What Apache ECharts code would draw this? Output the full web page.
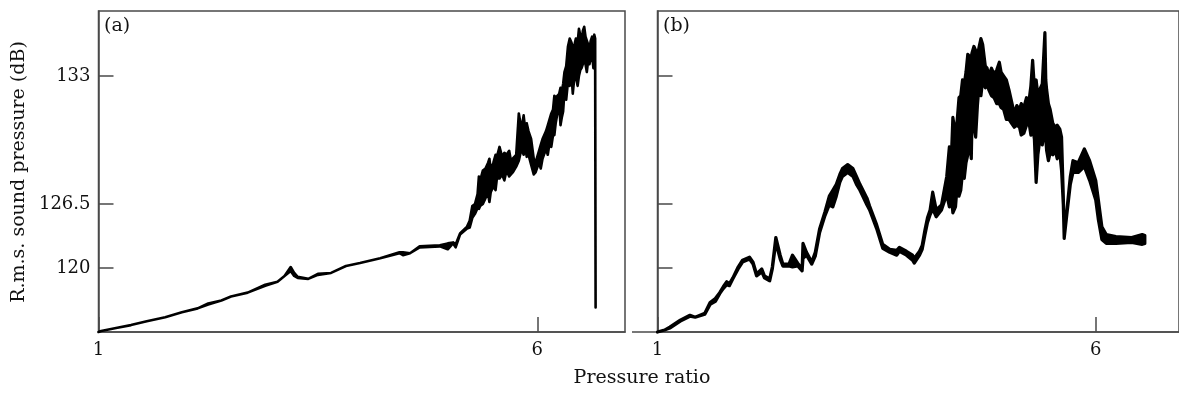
<!DOCTYPE html>
<html>
<head>
<meta charset="utf-8">
<script src="https://cdn.jsdelivr.net/npm/echarts@6/dist/echarts.min.js"></script>
<style>
  html, body { margin: 0; padding: 0; background: #fff; }
  #chart { width: 1179px; height: 393px; }
</style>
</head>
<body>
<div id="chart"></div>
<script>
// Tick labels on the level axis (dB) and pressure-ratio axis
const levelTicks = [120, 126.5, 133];
const ratioTicks = [1, 6];

// (a): pressure ratio, lower and upper envelope of the r.m.s. level trace (dB)
const ratioA = [1.00, 1.03, 1.20, 1.37, 1.55, 1.76, 1.95, 2.13, 2.25, 2.40, 2.51, 2.70, 2.90, 3.04, 3.12, 3.19, 3.23, 3.27, 3.39, 3.50,
  3.65, 3.82, 3.98, 4.21, 4.43, 4.47, 4.55, 4.66, 4.89, 4.98, 5.04, 5.07, 5.12, 5.20,
  5.23, 5.26, 5.29, 5.32, 5.335, 5.35, 5.38, 5.41, 5.44, 5.455, 5.47, 5.50, 5.525, 5.54, 5.57, 5.60, 5.625, 5.65, 5.68, 5.70,
  5.72, 5.76, 5.79, 5.82, 5.845, 5.86, 5.88, 5.90, 5.93, 5.96, 5.98, 6.02, 6.04, 6.06, 6.10, 6.12, 6.14, 6.16, 6.18, 6.195,
  6.21, 6.25, 6.265, 6.28, 6.295, 6.31, 6.33, 6.35, 6.37, 6.39, 6.405, 6.42, 6.44, 6.46, 6.475, 6.49, 6.505, 6.52, 6.535, 6.55,
  6.565, 6.58, 6.595, 6.61, 6.625, 6.64, 6.65, 6.66, 6.665];
const lowA = [113.5, 113.6, 113.9, 114.2, 114.6, 115.0, 115.5, 115.9, 116.3, 116.7, 117.1, 117.5, 118.2, 118.6, 119.2, 119.7, 119.2, 119.0, 118.9, 119.3,
  119.5, 120.2, 120.5, 121.0, 121.5, 121.3, 121.5, 122.1, 122.2, 121.9, 122.5, 122.1, 123.4, 124.0,
  124.1, 125.1, 125.5, 126.1, 126.0, 126.3, 126.5, 126.8, 127.0, 126.6, 127.1, 127.4, 127.2, 127.8, 127.8, 128.0, 127.7, 128.2, 127.9, 128.0,
  128.1, 128.4, 128.7, 129.3, 129.0, 129.5, 128.9, 129.0, 128.5, 128.0, 128.1, 128.6, 128.3, 128.8, 129.3, 129.0, 129.6, 129.4, 130.0, 130.0,
  130.6, 131.6, 130.5, 130.9, 131.2, 132.2, 131.8, 132.7, 132.5, 133.1, 132.1, 132.8, 133.0, 132.5, 133.0, 133.3, 133.4, 133.6, 133.9, 133.6,
  133.2, 133.8, 133.6, 133.9, 134.1, 133.4, 133.6, 133.3, 116.0];
const highA = [113.5, 113.6, 113.9, 114.2, 114.6, 115.0, 115.5, 115.9, 116.4, 116.7, 117.1, 117.5, 118.3, 118.6, 119.2, 120.1, 119.5, 119.1, 118.9, 119.4,
  119.5, 120.2, 120.5, 121.0, 121.6, 121.6, 121.5, 122.2, 122.3, 122.5, 122.6, 122.4, 123.5, 124.2,
  124.8, 126.3, 126.5, 127.0, 127.9, 127.7, 128.2, 128.3, 128.6, 128.8, 128.2, 128.6, 129.0, 128.9, 129.4, 128.9, 129.1, 129.0, 129.2, 128.7,
  128.8, 129.0, 131.1, 130.3, 131.0, 130.4, 130.6, 130.2, 129.8, 128.8, 128.6, 129.2, 129.5, 129.8, 130.2, 130.5, 130.8, 131.1, 131.3, 132.0,
  131.9, 132.1, 132.4, 132.2, 132.6, 133.2, 133.5, 134.5, 134.9, 134.7, 134.4, 134.5, 134.9, 134.7, 135.4, 135.1, 134.7, 135.3, 135.5, 135.0,
  134.8, 134.6, 134.4, 134.8, 135.0, 134.9, 135.1, 134.9, 116.0];

// (b): pressure ratio, lower and upper envelope of the r.m.s. level trace (dB)
const ratioB = [1.00, 1.08, 1.14, 1.26, 1.37, 1.43, 1.54, 1.60, 1.66, 1.71, 1.75, 1.79, 1.82, 1.86, 1.92, 1.97, 2.05, 2.09, 2.13, 2.19,
  2.22, 2.28, 2.31, 2.35, 2.40, 2.43, 2.50, 2.54, 2.60, 2.65, 2.66, 2.70, 2.76, 2.80, 2.85, 2.91, 2.96, 3.00, 3.04, 3.08,
  3.11, 3.17, 3.23, 3.27, 3.31, 3.39, 3.42, 3.50, 3.57, 3.65, 3.73, 3.76, 3.84, 3.91, 3.93, 3.99, 4.02, 4.05, 4.08, 4.11,
  4.14, 4.18, 4.24, 4.30, 4.33, 4.35, 4.37, 4.40, 4.42, 4.44, 4.46, 4.48, 4.50, 4.52, 4.54, 4.56, 4.58, 4.59, 4.61, 4.63,
  4.65, 4.67, 4.69, 4.71, 4.74, 4.76, 4.78, 4.81, 4.84, 4.87, 4.90, 4.92, 4.95, 4.98, 5.01, 5.04, 5.07, 5.10, 5.13, 5.15,
  5.18, 5.21, 5.24, 5.26, 5.28, 5.30, 5.32, 5.34, 5.36, 5.39, 5.42, 5.43, 5.44, 5.46, 5.48, 5.51, 5.54, 5.56, 5.59, 5.61,
  5.63, 5.64, 5.67, 5.71, 5.74, 5.80, 5.87, 5.93, 6.00, 6.03, 6.07, 6.12, 6.23, 6.41, 6.53, 6.56];
const lowB = [113.5, 113.7, 113.9, 114.6, 115.1, 115.0, 115.3, 116.3, 116.6, 117.4, 117.9, 118.3, 118.2, 118.9, 119.9, 120.6, 120.9, 120.4, 119.2, 119.6,
  119.0, 118.7, 119.9, 122.6, 120.9, 120.2, 120.2, 120.1, 120.2, 119.7, 121.0, 121.3, 120.4, 121.2, 123.6, 125.3, 126.4, 126.2, 126.9, 127.6,
  127.9, 128.1, 127.9, 127.5, 127.2, 126.4, 125.9, 124.0, 122.0, 121.6, 121.3, 121.7, 121.3, 120.8, 120.5, 121.3, 121.9, 123.3, 124.6, 125.4,
  126.0, 125.2, 125.9, 127.0, 126.2, 127.0, 125.6, 126.2, 127.5, 126.9, 127.2, 128.1, 127.8, 128.6, 129.0, 130.1, 128.8, 131.1, 130.5, 129.9,
  131.5, 132.6, 132.0, 132.8, 132.4, 132.6, 132.3, 132.0, 131.9, 131.6, 131.6, 131.4, 131.3, 130.8, 130.8, 130.6, 130.4, 130.5, 130.4, 130.0,
  130.1, 130.5, 130.6, 130.0, 130.4, 129.8, 127.6, 129.0, 129.7, 129.5, 130.4, 129.8, 129.2, 128.7, 129.1, 129.0, 129.2, 128.8, 129.1, 128.2,
  126.4, 123.0, 125.4, 127.5, 128.1, 128.1, 128.4, 127.7, 126.7, 124.9, 122.9, 122.5, 122.5, 122.6, 122.4, 122.5];
const highB = [113.5, 113.7, 114.0, 114.7, 115.2, 115.0, 115.4, 116.5, 116.9, 117.5, 118.1, 118.6, 118.4, 119.0, 120.1, 120.8, 121.1, 120.6, 119.4, 119.9,
  119.2, 118.9, 120.1, 123.1, 121.3, 120.4, 120.4, 121.3, 120.5, 119.9, 122.5, 121.6, 120.6, 121.6, 124.0, 125.7, 126.9, 127.2, 127.5, 128.0,
  128.3, 128.5, 128.3, 127.9, 127.5, 126.8, 126.3, 124.4, 122.4, 121.9, 121.8, 122.1, 121.7, 121.3, 121.0, 121.7, 122.3, 123.8, 125.1, 125.9,
  127.1, 125.9, 126.4, 127.9, 129.4, 128.5, 130.9, 130.0, 130.8, 131.9, 132.0, 132.8, 132.6, 133.2, 134.1, 134.0, 134.0, 134.2, 134.5, 134.3,
  134.0, 134.5, 134.9, 134.6, 133.5, 133.4, 133.0, 133.4, 133.1, 133.3, 133.7, 133.2, 133.0, 132.8, 132.3, 131.7, 131.1, 131.5, 131.3, 131.6,
  131.4, 131.9, 131.8, 132.5, 133.8, 132.4, 132.8, 132.0, 132.3, 132.6, 135.2, 132.8, 132.3, 131.6, 131.3, 130.6, 130.4, 130.5, 130.3, 129.9,
  126.9, 123.3, 125.8, 127.9, 128.7, 128.6, 129.3, 128.7, 127.7, 126.7, 124.2, 123.4, 123.2, 123.1, 123.4, 123.3];

// The printed level scale is piecewise: 120 -> 126.5 spans half the distance of 126.5 -> 133.
function levelToAxis(db) {
  return db <= 126.5 ? (db - 120) / 6.5 : 1 + (db - 126.5) / 3.25;
}
function axisToLabel(v) {
  const hit = levelTicks.find(t => Math.abs(levelToAxis(t) - v) < 1e-6);
  return hit === undefined ? '' : String(hit);
}

const FONT = 'DejaVu Serif';
const AXIS_COLOR = '#4a4a4a';

function xAxisFor(gridIndex, max) {
  return {
    type: 'value', gridIndex, min: 1, max,
    axisLine: { show: true, onZero: false, lineStyle: { color: AXIS_COLOR, width: 1.5 } },
    axisTick: { show: true, inside: true, length: 15, customValues: ratioTicks, lineStyle: { color: AXIS_COLOR, width: 1.5 } },
    axisLabel: { show: true, customValues: ratioTicks, margin: 9, fontFamily: FONT, fontSize: 18, color: '#111' },
    splitLine: { show: false }
  };
}
function yAxisFor(gridIndex, labels) {
  const tickValues = levelTicks.map(levelToAxis);
  return {
    type: 'value', gridIndex, min: levelToAxis(113.5), max: 4.016,
    axisLine: { show: true, onZero: false, lineStyle: { color: AXIS_COLOR, width: 1.5 } },
    axisTick: { show: true, inside: true, length: 15, customValues: tickValues, lineStyle: { color: AXIS_COLOR, width: 1.5 } },
    axisLabel: { show: labels, customValues: tickValues, margin: 8, fontFamily: FONT, fontSize: 18, color: '#111', formatter: axisToLabel },
    splitLine: { show: false }
  };
}

// Envelope band of a trace: upper edge forward, lower edge back, stroked so flat parts read as a line.
function envelopeSeries(index, ratio, low, high, width) {
  return {
    type: 'custom',
    xAxisIndex: index, yAxisIndex: index,
    coordinateSystem: 'cartesian2d',
    silent: true,
    data: [[ratio[0], levelToAxis(low[0])]],
    renderItem: function (params, api) {
      const pts = [];
      for (let i = 0; i < ratio.length; i++) pts.push(api.coord([ratio[i], levelToAxis(high[i])]));
      for (let i = ratio.length - 1; i >= 0; i--) pts.push(api.coord([ratio[i], levelToAxis(low[i])]));
      return {
        type: 'polygon',
        shape: { points: pts },
        style: { fill: '#000', stroke: '#000', lineWidth: width, lineJoin: 'round' }
      };
    }
  };
}

const chart = echarts.init(document.getElementById('chart'), null, { renderer: 'canvas' });
chart.setOption({
  animation: false,
  backgroundColor: '#fff',
  grid: [
    { left: 98.5, top: 11, width: 526.5, height: 321, show: true, borderColor: AXIS_COLOR, borderWidth: 1.5, containLabel: false },
    { left: 657.5, top: 11, width: 523, height: 321, show: true, borderColor: AXIS_COLOR, borderWidth: 1.5, containLabel: false }
  ],
  xAxis: [xAxisFor(0, 7), xAxisFor(1, 1 + 523 / 87.9)],
  yAxis: [yAxisFor(0, true), yAxisFor(1, false)],
  series: [
    envelopeSeries(0, ratioA, lowA, highA, 2.6),
    envelopeSeries(1, ratioB, lowB, highB, 3.2)
  ],
  graphic: [
    { type: 'text', x: 104, y: 17, style: { text: '(a)', font: '19px "DejaVu Serif"', fill: '#111', textAlign: 'left', textVerticalAlign: 'top' } },
    { type: 'text', x: 663, y: 17, style: { text: '(b)', font: '19px "DejaVu Serif"', fill: '#111', textAlign: 'left', textVerticalAlign: 'top' } },
    { type: 'text', x: 19, y: 172, rotation: Math.PI / 2,
      style: { text: 'R.m.s. sound pressure (dB)', font: '19px "DejaVu Serif"', fill: '#111', textAlign: 'center', textVerticalAlign: 'middle' } },
    { type: 'text', x: 642, y: 378,
      style: { text: 'Pressure ratio', font: '19px "DejaVu Serif"', fill: '#111', textAlign: 'center', textVerticalAlign: 'middle' } },
    { type: 'line', shape: { x1: 632, y1: 332, x2: 658, y2: 332 }, style: { stroke: AXIS_COLOR, lineWidth: 1.5 } }
  ]
});
</script>
</body>
</html>
